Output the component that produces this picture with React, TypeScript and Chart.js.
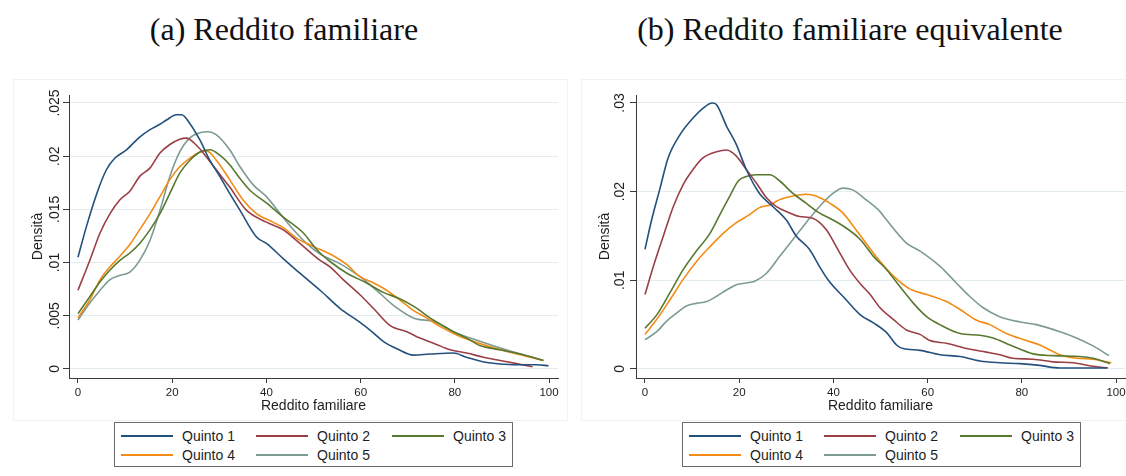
import React, { useEffect, useRef } from "react";
import { Chart, registerables } from "chart.js";

Chart.register(...registerables);

// ---------- data ----------
const SERIES_NAMES = ["Quinto 1", "Quinto 2", "Quinto 3", "Quinto 4", "Quinto 5"];
const SERIES_COLORS = ["#24507d", "#9b3f46", "#58792f", "#f28c16", "#7d9b93"];
const X_TICKS = [0, 20, 40, 60, 80, 100];
const X_TITLE = "Reddito familiare";
const Y_TITLE = "Densità";

const TITLE_A = "(a) Reddito familiare";
const Y_TICKS_A = [0, 0.005, 0.01, 0.015, 0.02, 0.025];
const Y_LABELS_A = ["0", ".005", ".01", ".015", ".02", ".025"];

const TITLE_B = "(b) Reddito familiare equivalente";
const Y_TICKS_B = [0, 0.01, 0.02, 0.03];
const Y_LABELS_B = ["0", ".01", ".02", ".03"];

// panel (a): [reddito, densità]
const aQ1: number[][] = [[0,.0105],[1.8,.0134],[4,.0165],[6,.0187],[7.8,.0198],[10.3,.0206],[13.1,.0218],[15.3,.0225],[17.4,.0230],[18.8,.0234],[20.9,.0239],[22,.0239],[23.7,.0231],[25.9,.0215],[28,.0196],[30.1,.0181],[32.2,.0165],[34.4,.0149],[37.9,.0124],[40,.0118],[43.5,.0104],[47.1,.0090],[51.4,.0074],[55.6,.0057],[59.8,.0044],[62.7,.0034],[64.8,.0026],[67.7,.0019],[71.2,.0013],[74.7,.0014],[79.7,.0015],[82.5,.0011],[86.8,.0006],[92.4,.0004],[97.4,.0004],[99.9,.0003]];
const aQ2: number[][] = [[0,.0074],[2.5,.0102],[4.7,.0128],[6.8,.0146],[8.9,.0159],[11,.0167],[13.1,.0181],[15.3,.0189],[17.4,.0203],[19.5,.0211],[21.6,.0216],[23,.0217],[25.2,.0210],[27.3,.0199],[29.4,.0187],[32.2,.0171],[35.8,.0149],[40,.0138],[43.5,.0131],[47.1,.0118],[51.4,.0102],[53.5,.0096],[56.3,.0084],[59.8,.0070],[62.7,.0057],[66.2,.0041],[69.8,.0035],[72.6,.0029],[76.1,.0023],[79,.0018],[82.5,.0015],[86.1,.0011],[89.6,.0008],[93.1,.0005],[96.5,.0002]];
const aQ3: number[][] = [[0,.0052],[2.5,.0068],[4.7,.0082],[6.8,.0093],[8.9,.0102],[11,.0109],[13.1,.0118],[15.3,.0131],[17.4,.0146],[19.5,.0165],[21.6,.0184],[23.7,.0196],[25.9,.0204],[28,.0206],[30.1,.0201],[32.2,.0192],[34.4,.0179],[36.5,.0168],[40,.0156],[43.5,.0143],[47.8,.0128],[50.7,.0112],[53.5,.0101],[57.1,.0090],[61.2,.0081],[64.8,.0072],[68.3,.0066],[71.2,.0059],[75.4,.0046],[79.7,.0035],[82.5,.0029],[85.3,.0022],[89.6,.0018],[93.9,.0014],[98.8,.0008]];
const aQ4: number[][] = [[0,.0048],[2.5,.0065],[4.7,.0084],[6.8,.0096],[8.9,.0106],[11,.0117],[13.1,.0131],[15.3,.0146],[17.4,.0162],[19.5,.0178],[21.6,.0190],[23.7,.0198],[25.9,.0204],[27.3,.0205],[29.4,.0196],[32.2,.0178],[35,.0159],[37.9,.0146],[41.4,.0138],[43.5,.0133],[46.4,.0123],[50,.0115],[53.5,.0108],[57.1,.0098],[59.8,.0087],[62.7,.0081],[65.5,.0074],[68.3,.0065],[71.2,.0055],[74,.0048],[76.8,.0040],[80.4,.0032],[83.9,.0026],[87.4,.0021],[92.4,.0015],[98.8,.0008]];
const aQ5: number[][] = [[0,.0046],[2.5,.0062],[4.7,.0074],[6.8,.0084],[8.9,.0088],[11,.0091],[13.1,.0102],[15.3,.0121],[17.4,.0149],[19.5,.0181],[21.6,.0204],[23.7,.0217],[25.9,.0222],[27.6,.0223],[29.4,.0220],[32.2,.0206],[34.4,.0190],[37.2,.0173],[40,.0162],[42.9,.0146],[45.7,.0131],[48.5,.0118],[51.4,.0108],[55.6,.0099],[59.8,.0087],[64.1,.0071],[66.9,.0060],[71.2,.0048],[76.1,.0044],[79.7,.0035],[85.3,.0026],[90.9,.0018],[98.8,.0008]];

// panel (b): [reddito equivalente, densità]
const bQ1: number[][] = [[0,.0135],[1.4,.0168],[3.2,.0204],[4.9,.0238],[7.4,.0264],[10.2,.0283],[12.3,.0294],[14.3,.0300],[15.2,.0298],[17.3,.0274],[19.4,.0253],[21.5,.0225],[24.3,.0198],[27.2,.0183],[30,.0168],[32.1,.0150],[34.9,.0135],[37,.0116],[38.8,.0101],[42.7,.0078],[45.7,.0061],[48.5,.0052],[51.3,.0041],[53.4,.0027],[54.8,.0023],[58.4,.0021],[62.6,.0016],[66.9,.0014],[71.1,.0009],[75.3,.0007],[79.6,.0006],[83.8,.0004],[88.1,.0001],[93.7,.0001],[98,.0001]];
const bQ2: number[][] = [[0,.0084],[1.8,.0116],[3.9,.0150],[6,.0183],[8.1,.0208],[10.2,.0225],[12.3,.0238],[15.2,.0245],[17.3,.0247],[19.4,.0240],[21.5,.0225],[23.6,.0210],[25.8,.0193],[27.9,.0183],[30.7,.0176],[32.8,.0172],[35.6,.0170],[38.5,.0157],[40.6,.0138],[43.4,.0112],[45.7,.0096],[47.8,.0084],[49.9,.0069],[52.7,.0056],[55.5,.0044],[58.4,.0039],[60.5,.0032],[64,.0029],[68.3,.0023],[72.5,.0019],[75.3,.0016],[78.1,.0012],[82.4,.0011],[86.6,.0008],[90.9,.0007],[95.1,.0003],[98.3,.0001]];
const bQ3: number[][] = [[0,.0046],[2.5,.0061],[5.3,.0086],[8.1,.0112],[10.9,.0133],[13.8,.0153],[15.9,.0174],[18,.0195],[19.8,.0212],[21.5,.0217],[23.6,.0219],[26.5,.0219],[28.6,.0212],[31.4,.0198],[34.2,.0187],[37,.0176],[39.9,.0168],[42.7,.0159],[45.7,.0146],[48.5,.0127],[51.3,.0112],[54.1,.0093],[57,.0074],[59.8,.0059],[62.6,.0050],[66.9,.0040],[71.1,.0038],[73.9,.0035],[77.5,.0027],[82.4,.0017],[86.6,.0015],[92.3,.0014],[95.1,.0012],[98.7,.0006]];
const bQ4: number[][] = [[0,.0039],[2.5,.0056],[5.3,.0078],[8.1,.0101],[10.9,.0121],[13.8,.0138],[16.6,.0153],[19.4,.0165],[22.2,.0174],[24.3,.0182],[26.5,.0185],[28.6,.0191],[31.4,.0195],[34.2,.0197],[36.3,.0195],[39.2,.0187],[42,.0176],[44.8,.0157],[47.6,.0137],[49.8,.0122],[52.7,.0105],[56.3,.0090],[59.8,.0084],[64,.0076],[66.9,.0067],[70.4,.0055],[73.2,.0050],[76.7,.0040],[81,.0032],[83.8,.0027],[88.1,.0016],[91.6,.0012],[95.1,.0011],[99,.0007]];
const bQ5: number[][] = [[0,.0033],[2.5,.0042],[4.6,.0054],[6.7,.0063],[8.8,.0071],[10.9,.0074],[13.1,.0076],[15.2,.0082],[17.3,.0089],[19.4,.0095],[21.5,.0097],[23.3,.0099],[25.8,.0108],[28.6,.0127],[31.4,.0146],[34.2,.0165],[37,.0183],[39.9,.0198],[42,.0204],[44.1,.0202],[46.9,.0191],[49.8,.0178],[51.3,.0168],[55.5,.0142],[58.4,.0133],[62.6,.0116],[66.1,.0097],[68.9,.0082],[71.8,.0069],[75.3,.0059],[79.6,.0053],[83.1,.0050],[88.1,.0042],[91.6,.0035],[95.1,.0026],[98.5,.0015]];

const SERIES_A = [aQ1, aQ2, aQ3, aQ4, aQ5];
const SERIES_B = [bQ1, bQ2, bQ3, bQ4, bQ5];

// ---------- styling ----------
const SANS = '"Liberation Sans", Arial, Helvetica, sans-serif';
const SERIF = '"Liberation Serif", "Times New Roman", Times, serif';
const AXIS = "#3a3a3a";
const GRID = "#e3edf0";
const TEXT = "#1e1e1e";

type PanelProps = {
  series: number[][][];
  yTicks: number[];
  yLabels: string[];
  yMin: number;
  yMax: number;
  width: number;
  height: number;
  axisWidth: number;
  padRight: number;
  labelGap: number;
  titlePad: number;
};

function Panel(p: PanelProps) {
  const ref = useRef<HTMLCanvasElement | null>(null);
  useEffect(() => {
    if (!ref.current) return;
    const yLabelPlugin = {
      id: "yRotLabels",
      afterDraw(chart: any) {
        const s = chart.scales.y;
        const ctx = chart.ctx;
        ctx.save();
        ctx.font = `14px ${SANS}`;
        ctx.fillStyle = TEXT;
        ctx.textAlign = "center";
        ctx.textBaseline = "alphabetic";
        p.yTicks.forEach((v, i) => {
          const y = s.getPixelForValue(v);
          ctx.save();
          ctx.translate(s.right - p.labelGap, y);
          ctx.rotate(-Math.PI / 2);
          ctx.fillText(p.yLabels[i], 0, 0);
          ctx.restore();
        });
        ctx.restore();
      },
    };
    const chart = new Chart(ref.current, {
      type: "line",
      data: {
        datasets: p.series.map((pts, i) => ({
          label: SERIES_NAMES[i],
          data: pts.map(([x, y]) => ({ x, y })),
          borderColor: SERIES_COLORS[i],
          backgroundColor: SERIES_COLORS[i],
          borderWidth: 1.6,
          pointRadius: 0,
          fill: false,
          cubicInterpolationMode: "monotone" as const,
        })),
      },
      options: {
        animation: false,
        responsive: false,
        devicePixelRatio: 1,
        layout: { padding: { left: 0, right: p.padRight, top: 15, bottom: 0 } },
        plugins: { legend: { display: false }, tooltip: { enabled: false }, title: { display: false } },
        scales: {
          x: {
            type: "linear",
            min: -1.91,
            max: 101.9,
            afterBuildTicks: (s: any) => {
              s.ticks = X_TICKS.map((v) => ({ value: v }));
            },
            afterFit: (s: any) => {
              s.height = 42;
              s.paddingLeft = 0;
              s.paddingRight = 0;
            },
            ticks: {
              autoSkip: false,
              maxRotation: 0,
              minRotation: 0,
              padding: 3,
              color: TEXT,
              font: { size: 11.5, family: SANS },
              callback: (v: any) => String(v),
            },
            grid: { display: true, drawOnChartArea: false, drawTicks: true, tickLength: 5, tickColor: AXIS, tickWidth: 1 },
            border: { display: true, color: AXIS, width: 1 },
            title: { display: true, text: X_TITLE, color: TEXT, font: { size: 14, family: SANS }, padding: { top: 0, bottom: 5 } },
          },
          y: {
            type: "linear",
            min: p.yMin,
            max: p.yMax,
            afterBuildTicks: (s: any) => {
              s.ticks = p.yTicks.map((v) => ({ value: v }));
            },
            afterFit: (s: any) => {
              s.width = p.axisWidth;
              s.paddingTop = 0;
              s.paddingBottom = 0;
            },
            ticks: { display: false },
            grid: { display: true, color: GRID, lineWidth: 1, drawTicks: true, tickLength: 6, tickColor: AXIS, tickWidth: 1 },
            border: { display: true, color: AXIS, width: 1 },
            title: { display: true, text: Y_TITLE, color: TEXT, font: { size: 14, family: SANS }, padding: { top: p.titlePad, bottom: 0 } },
          },
        },
      } as any,
      plugins: [yLabelPlugin],
    });
    return () => chart.destroy();
  }, []);
  return <canvas ref={ref} width={p.width} height={p.height} style={{ width: p.width, height: p.height, display: "block" }} />;
}

function Legend({ left }: { left: number }) {
  const lineX = [6, 141, 277];
  const textX = [67, 202, 338];
  const rowY = [13, 32];
  return (
    <div
      style={{
        position: "absolute",
        left,
        top: 422,
        width: 397,
        height: 43,
        border: "1.5px solid #6a6a6a",
        background: "#fff",
      }}
    >
      {SERIES_NAMES.map((name, i) => {
        const r = Math.floor(i / 3);
        const c = i % 3;
        return (
          <React.Fragment key={name}>
            <div
              style={{
                position: "absolute",
                left: lineX[c],
                top: rowY[r] - 1,
                width: 52,
                height: 1.5,
                background: SERIES_COLORS[i],
              }}
            />
            <div
              style={{
                position: "absolute",
                left: textX[c],
                top: rowY[r] - 8,
                font: `14px/16px ${SANS}`,
                color: TEXT,
                whiteSpace: "nowrap",
              }}
            >
              {name}
            </div>
          </React.Fragment>
        );
      })}
    </div>
  );
}

export default function App() {
  return (
    <div style={{ position: "absolute", left: 0, top: 0, width: 1126, height: 476, background: "#fff", overflow: "hidden" }}>
      <div style={{ position: "absolute", left: 0, top: 13, width: 568, textAlign: "center", font: `32px/32px ${SERIF}`, color: "#111" }}>
        {TITLE_A}
      </div>
      <div style={{ position: "absolute", left: 582, top: 13, width: 536, textAlign: "center", font: `32px/32px ${SERIF}`, color: "#111" }}>
        {TITLE_B}
      </div>
      <div style={{ position: "absolute", left: 14, top: 80, width: 553, height: 340, outline: "1px solid #f1f3f3" }}>
        <Panel
          series={SERIES_A}
          yTicks={Y_TICKS_A}
          yLabels={Y_LABELS_A}
          yMin={-0.00085}
          yMax={0.02575}
          width={553}
          height={340}
          axisWidth={55}
          padRight={9}
          labelGap={10}
          titlePad={16}
        />
      </div>
      <div style={{ position: "absolute", left: 582, top: 80, width: 544, height: 340, outline: "1px solid #f1f3f3" }}>
        <Panel
          series={SERIES_B}
          yTicks={Y_TICKS_B}
          yLabels={Y_LABELS_B}
          yMin={-0.00102}
          yMax={0.0309}
          width={544}
          height={340}
          axisWidth={54}
          padRight={1}
          labelGap={12}
          titlePad={15}
        />
      </div>
      <Legend left={114} />
      <Legend left={682} />
    </div>
  );
}
